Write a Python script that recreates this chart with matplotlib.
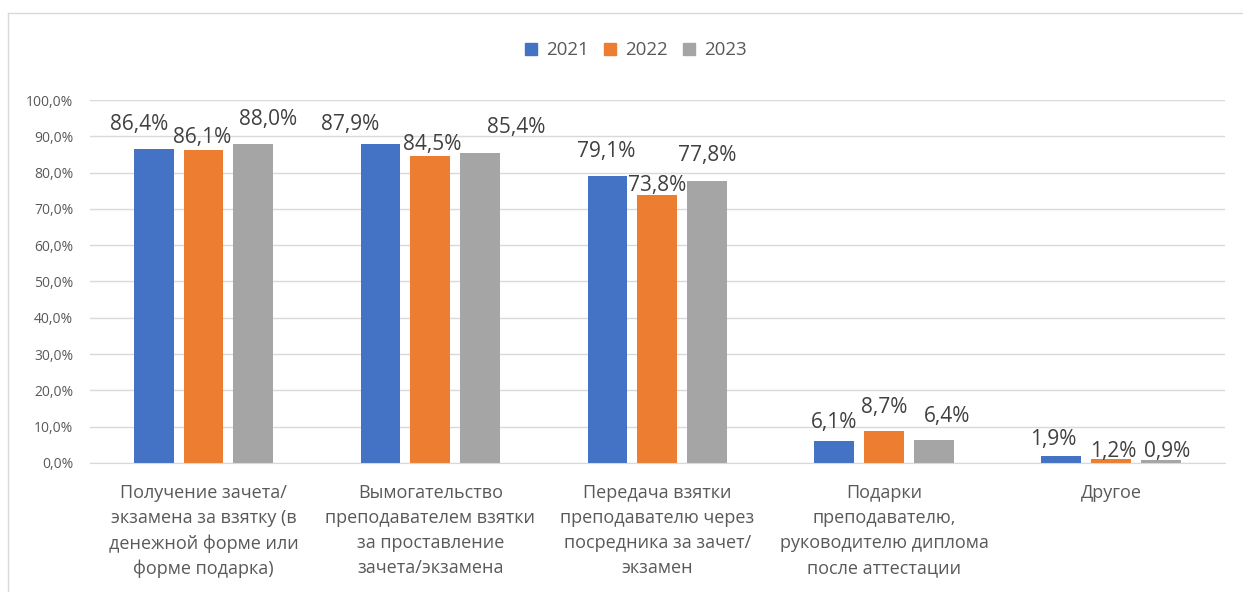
import numpy as np
import matplotlib.pyplot as plt
from matplotlib.lines import Line2D

categories = [
    'Получение зачета/\nэкзамена за взятку (в\nденежной форме или\nформе подарка)',
    'Вымогательство\nпреподавателем взятки\nза проставление\nзачета/экзамена',
    'Передача взятки\nпреподавателю через\nпосредника за зачет/\nэкзамен',
    'Подарки\nпреподавателю,\nруководителю диплома\nпосле аттестации',
    'Другое',
]
years = ['2021', '2022', '2023']
v2021 = [86.4, 87.9, 79.1, 6.1, 1.9]
v2022 = [86.1, 84.5, 73.8, 8.7, 1.2]
v2023 = [88.0, 85.4, 77.8, 6.4, 0.9]
yticks = np.arange(0, 101, 10)

# manual data-label nudges (pixels, label centre vs bar top) as in the original
label_shift = [
    [(-14, 25), (-30, 19), (-1, 24), (0, 18), (-8, 17)],
    [(-1, 13), (2, 12), (0, 10), (0, 24), (2, 7)],
    [(15, 24), (36, 26), (0, 25), (13, 23), (6, 8)],
]

colors = ['#4472c4', '#ed7d31', '#a5a5a5']
txt = '#595959'

plt.rcParams['font.family'] = ['Open Sans', 'DejaVu Sans']

fig = plt.figure(figsize=(12.43, 5.92), dpi=100)
ax = fig.add_axes([0.0724, 0.218, 0.913, 0.613])

x = np.arange(len(categories))
width = 0.176
step = 0.22
series = [v2021, v2022, v2023]
for i, (vals, yr) in enumerate(zip(series, years)):
    pos = x + (i - 1) * step
    bars = ax.bar(pos, vals, width, color=colors[i], label=yr, zorder=3)
    for j, (b, v) in enumerate(zip(bars, vals)):
        ax.annotate(('%.1f%%' % v).replace('.', ','),
                    (b.get_x() + b.get_width() / 2, v),
                    xytext=label_shift[i][j], textcoords='offset pixels',
                    ha='center', va='center', fontsize=15, color='#404040', zorder=4)

ax.set_ylim(0, 100)
ax.set_xlim(-0.5, len(categories) - 0.5)
ax.set_yticks(yticks)
ax.set_yticklabels([('%.1f%%' % t).replace('.', ',') for t in yticks], fontsize=10, color=txt)
ax.set_xticks(x)
ax.set_xticklabels(categories, fontsize=13, color=txt, linespacing=1.5, va='top')
ax.tick_params(axis='both', length=0)
ax.tick_params(axis='x', pad=15)
ax.tick_params(axis='y', pad=12)
ax.grid(axis='y', color='#d9d9d9', linewidth=1, zorder=0)
for s in ['top', 'right', 'left']:
    ax.spines[s].set_visible(False)
ax.spines['bottom'].set_color('#d9d9d9')
ax.spines['bottom'].set_zorder(3)

handles = [Line2D([], [], marker='s', linestyle='', markersize=8.5, color=c) for c in colors]
fig.legend(handles, years, loc='center', bbox_to_anchor=(0.511, 0.915), ncol=3, frameon=False,
           fontsize=13.5, labelcolor=txt, handlelength=0.8, handletextpad=0.4, columnspacing=0.75)

# outer chart frame
fig.add_artist(Line2D([8 / 1243, 8 / 1243], [0, 1 - 13 / 592], transform=fig.transFigure, color='#d9d9d9', lw=1))
fig.add_artist(Line2D([8 / 1243, 1], [1 - 13 / 592, 1 - 13 / 592], transform=fig.transFigure, color='#d9d9d9', lw=1))

plt.savefig('out.png', dpi=100)
